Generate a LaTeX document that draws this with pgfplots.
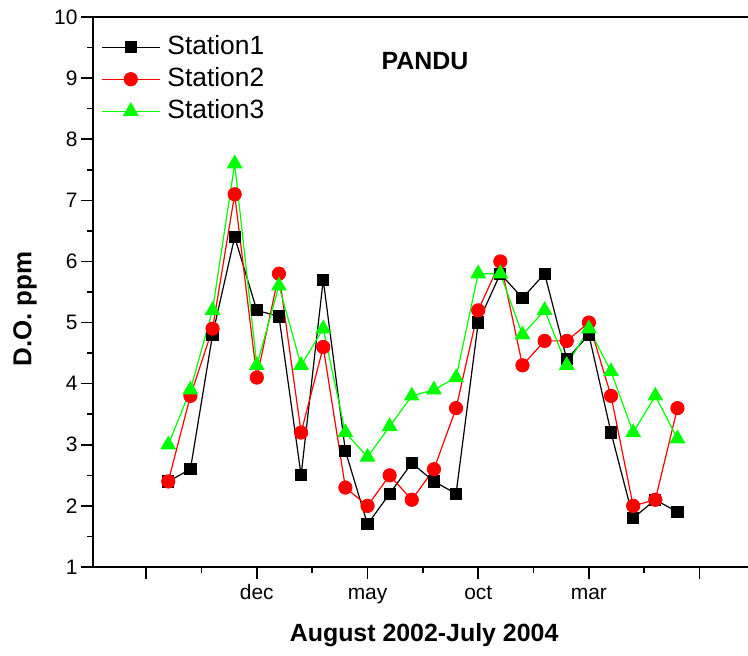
\documentclass[border=0pt]{standalone}
\usepackage{fontspec}
\setmainfont{Liberation Sans}
\usepackage{pgfplots}
\usepackage{pgfplotstable}
\pgfplotsset{compat=1.18}
\definecolor{sgreen}{RGB}{0,255,0}
\definecolor{sred}{RGB}{255,0,0}
\pgfplotstableread{
i s1 s2 s3
0 2.4 2.4 3.0
1 2.6 3.8 3.9
2 4.8 4.9 5.2
3 6.4 7.1 7.6
4 5.2 4.1 4.3
5 5.1 5.8 5.6
6 2.5 3.2 4.3
7 5.7 4.6 4.9
8 2.9 2.3 3.2
9 1.7 2.0 2.8
10 2.2 2.5 3.3
11 2.7 2.1 3.8
12 2.4 2.6 3.9
13 2.2 3.6 4.1
14 5.0 5.2 5.8
15 5.8 6.0 5.8
16 5.4 4.3 4.8
17 5.8 4.7 5.2
18 4.4 4.7 4.3
19 4.8 5.0 4.9
20 3.2 3.8 4.2
21 1.8 2.0 3.2
22 2.1 2.1 3.8
23 1.9 3.6 3.1
}\data
\begin{document}
\begin{tikzpicture}
\begin{axis}[
  scale only axis, width=673bp, height=550bp,
  xmin=-3.4, xmax=27, ymin=1, ymax=10,
  xtick pos=bottom, ytick pos=left,
  tick align=outside,
  major tick length=12bp, minor tick length=6bp,
  xtick={-1,4,9,14,19,24}, xticklabels={,dec,may,oct,mar,},
  minor xtick={1.5,6.5,11.5,16.5,21.5,26.5},
  ytick={1,2,...,10}, minor ytick={1.5,2.5,...,9.5},
  every tick/.style={black, line width=1.6bp},
  axis line style={line width=2.2bp},
  ticklabel style={font=\fontsize{21}{25}\selectfont},
  xticklabel style={text height=15bp, text depth=5bp, inner sep=5bp},
  /pgf/number format/assume math mode=true,
  xlabel={August 2002-July 2004}, ylabel={D.O. ppm},
  label style={font=\bfseries\fontsize{25}{30}\selectfont},
  xlabel style={at={(rel axis cs:0.492,0)}, anchor=center, yshift=-68bp},
  ylabel style={at={(axis description cs:-0.101,0.469)}, anchor=center, font=\bfseries\fontsize{26}{30}\selectfont},
  legend style={at={(rel axis cs:0,1)}, anchor=north west, xshift=8bp, yshift=-14bp,
    draw=none, fill=none, font=\fontsize{26.5}{30}\selectfont, row sep=0bp,
    inner sep=0pt, nodes={inner sep=3bp, text height=20bp, text depth=6bp},
    /tikz/every odd column/.append style={column sep=4bp}},
  legend cell align=left,
  legend image code/.code={\draw[mark repeat=2,mark phase=2] plot coordinates {(0bp,0bp)(29bp,0bp)(58bp,0bp)};},
]
\coordinate (O) at (rel axis cs:0,0);
\addplot[black, line width=1.2bp, mark=square*, mark size=5.5bp, mark options={solid}] table[x=i,y=s1]{\data};
\addlegendentry{Station1}
\addplot[sred, line width=1.2bp, mark=*, mark size=6.5bp, mark options={solid}] table[x=i,y=s2]{\data};
\addlegendentry{Station2}
\addplot[sgreen, line width=1.2bp, mark=triangle*, mark size=8bp, mark options={solid}] table[x=i,y=s3]{\data};
\addlegendentry{Station3}
\node[font=\bfseries\fontsize{25}{30}\selectfont] at (axis cs:11.6,9.28) {PANDU};
\end{axis}
\pgfresetboundingbox
\path (O) ++(-93bp,-89bp) rectangle ++(748bp,656bp);
\end{tikzpicture}
\end{document}
